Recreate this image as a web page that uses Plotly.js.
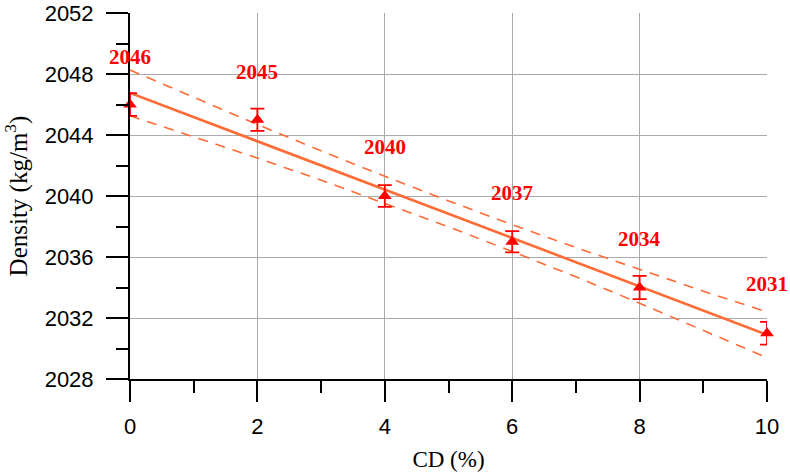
<!DOCTYPE html>
<html><head><meta charset="utf-8">
<script src="https://cdn.plot.ly/plotly-3.0.1.min.js"></script>
<style>body{margin:0;padding:0;background:#fff}#chart{width:790px;height:472px}</style>
</head><body><div id="chart"></div>
<script>
// Measured data
var cd = [0, 2, 4, 6, 8, 10];
var density = [2046.0, 2045.0, 2040.0, 2037.0, 2034.0, 2031.0];
var errDensity = [0.75, 0.73, 0.71, 0.7, 0.76, 0.75];
var labels = ["2046", "2045", "2040", "2037", "2034", "2031"];
var labelY = [2049.1, 2048.1, 2043.2, 2040.2, 2037.2, 2034.2];

// Fit line
var fitX = [0, 10];
var fitY = [2046.76, 2030.9];

// Confidence band
var bandX = [0, 1, 2, 3, 4, 5, 6, 7, 8, 9, 10];
var bandUpper = [2048.26, 2046.45, 2044.69, 2042.96, 2041.29, 2039.68, 2038.12, 2036.62, 2035.17, 2033.76, 2032.4];
var bandLower = [2045.26, 2043.89, 2042.49, 2041.04, 2039.53, 2037.98, 2036.36, 2034.70, 2032.97, 2031.21, 2029.4];

var orange = '#FF6B35';
var red = '#FF0000';

var traces = [
  {x: bandX, y: bandUpper, mode: 'lines', line: {color: orange, width: 1.6, dash: '10px,8px'}, hoverinfo: 'skip', cliponaxis: false},
  {x: bandX, y: bandLower, mode: 'lines', line: {color: orange, width: 1.6, dash: '10px,8px'}, hoverinfo: 'skip', cliponaxis: false},
  {x: fitX, y: fitY, mode: 'lines', line: {color: orange, width: 2.6}, cliponaxis: false},
  {x: cd, y: density, mode: 'markers', cliponaxis: false,
   marker: {symbol: 'triangle-up', size: 12, color: red},
   error_y: {type: 'data', array: errDensity, visible: true, color: red, thickness: 1.8, width: 7}}
];

var annotations = cd.map(function(v, i){
  return {x: v, y: labelY[i], text: labels[i], showarrow: false, xref: 'x', yref: 'y',
          font: {family: 'Liberation Serif, DejaVu Serif, serif', size: 21, color: red, weight: 'bold'}};
});

var layout = {
  width: 790, height: 472,
  margin: {l: 130, r: 23, t: 13, b: 93},
  paper_bgcolor: '#fff', plot_bgcolor: '#fff',
  showlegend: false,
  annotations: annotations,
  xaxis: {
    range: [0, 10], dtick: 2, tick0: 0,
    ticks: 'outside', ticklen: 21, tickwidth: 2, tickcolor: '#000',
    showline: true, linecolor: '#000', linewidth: 2,
    showgrid: true, gridcolor: '#aaa', gridwidth: 1,
    zeroline: false,
    tickfont: {family: 'Liberation Sans, Arial, sans-serif', size: 22, color: '#000'},
    ticklabelstandoff: 6,
    minor: {dtick: 1, ticks: 'outside', ticklen: 12, tickwidth: 2, tickcolor: '#000', showgrid: false},
    title: {text: 'CD (%)', font: {family: 'Liberation Serif, DejaVu Serif, serif', size: 23, color: '#000'}, standoff: 12}
  },
  yaxis: {
    range: [2028, 2052], dtick: 4, tick0: 2028,
    ticks: 'outside', ticklen: 22, tickwidth: 2, tickcolor: '#000',
    showline: true, linecolor: '#000', linewidth: 2,
    showgrid: true, gridcolor: '#aaa', gridwidth: 1,
    zeroline: false,
    tickfont: {family: 'Liberation Sans, Arial, sans-serif', size: 22, color: '#000'},
    ticklabelstandoff: 8,
    minor: {dtick: 2, ticks: 'outside', ticklen: 12, tickwidth: 2, tickcolor: '#000', showgrid: false},
    title: {text: 'Density (kg/m<sup>3</sup>)', font: {family: 'Liberation Serif, DejaVu Serif, serif', size: 25, color: '#000'}, standoff: 10}
  }
};

Plotly.newPlot('chart', traces, layout, {displayModeBar: false, staticPlot: true});
</script>
</body></html>
